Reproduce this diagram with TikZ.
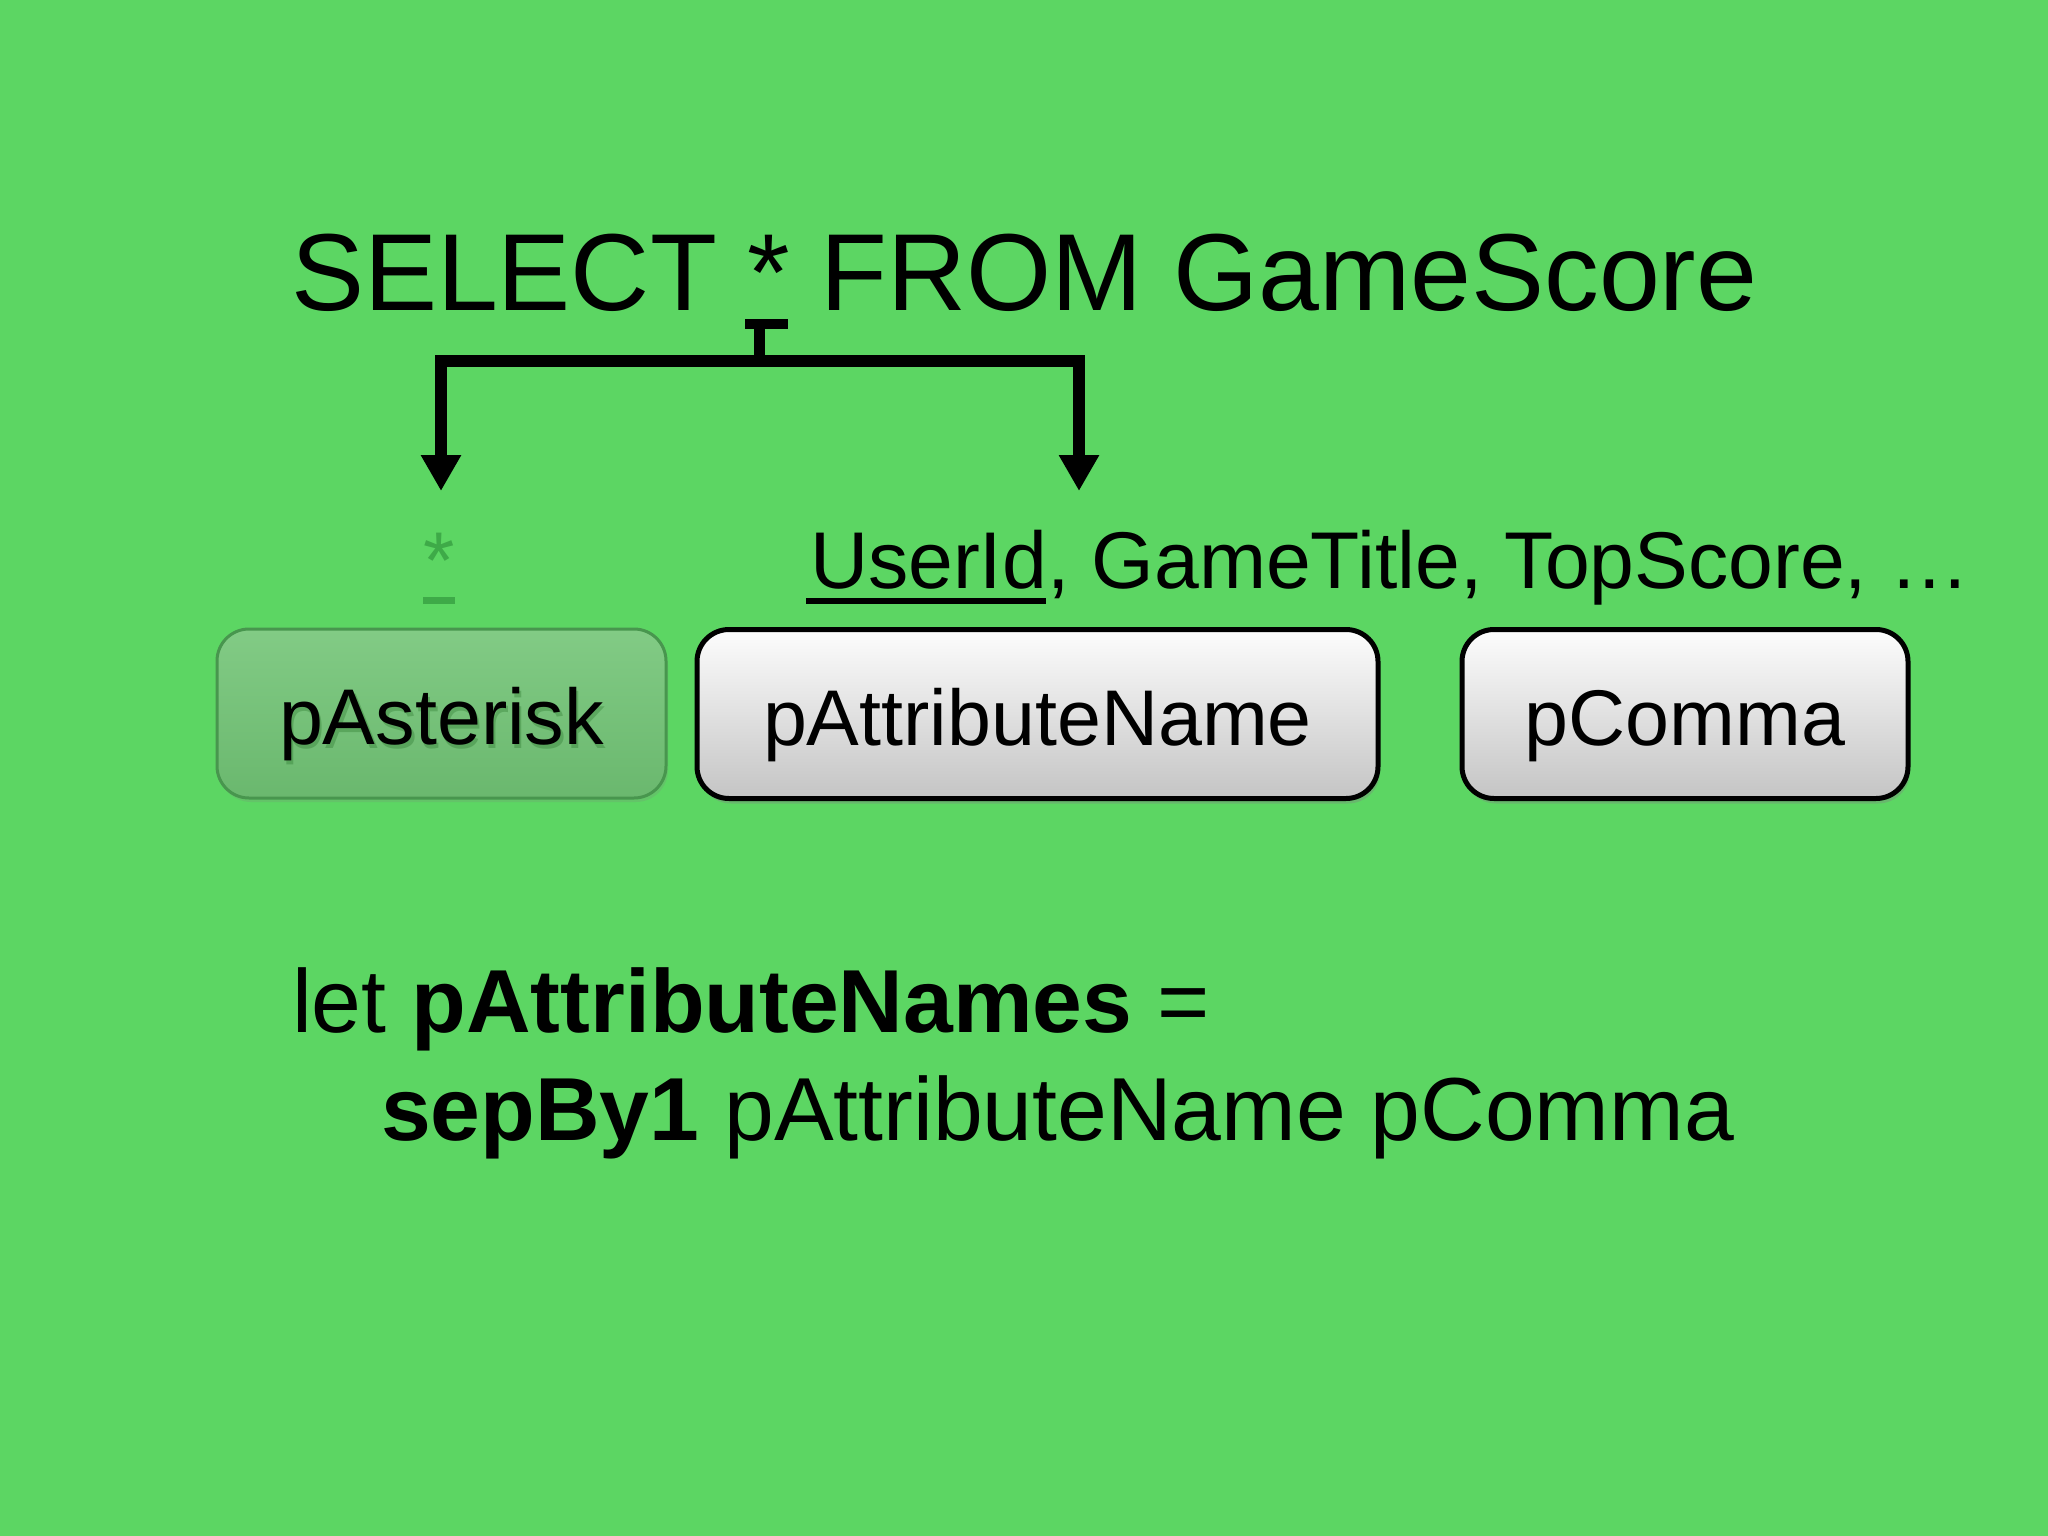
\documentclass[tikz,border=0pt]{standalone}
\usepackage{fontspec}
\setmainfont{Liberation Sans}
\usetikzlibrary{arrows.meta,shadows}
\definecolor{bg}{RGB}{92,214,99}
\definecolor{dimgreen}{RGB}{62,170,72}
\definecolor{boxgreentop}{RGB}{130,203,133}
\definecolor{boxgreenbot}{RGB}{106,184,110}
\definecolor{boxgreenline}{RGB}{72,150,78}
\definecolor{greytop}{RGB}{253,253,253}
\definecolor{greybot}{RGB}{196,196,196}
\tikzset{
  txt/.style={anchor=base west, inner sep=0pt, outer sep=0pt},
  titlefont/.style={font=\fontsize{109.5pt}{120pt}\selectfont},
  midfont/.style={font=\fontsize{80.5pt}{90pt}\selectfont},
  codefont/.style={font=\fontsize{89.5pt}{100pt}\selectfont},
  parser/.style={rounded corners=32pt, minimum height=169pt, inner sep=0pt,
    text height=62pt, text depth=0pt, font=\fontsize{79pt}{90pt}\selectfont},
  whitebox/.style={parser, draw=black, line width=5pt, top color=greytop, bottom color=greybot,
    drop shadow={shadow xshift=2pt, shadow yshift=-5pt, opacity=0.35}},
  greenbox/.style={parser, draw=boxgreenline, line width=3pt, top color=boxgreentop, bottom color=boxgreenbot,
    drop shadow={shadow xshift=2pt, shadow yshift=-4pt, opacity=0.2}},
  boxlabel/.style={inner sep=0pt, text height=62pt, text depth=0pt, font=\fontsize{79pt}{90pt}\selectfont},
  conn/.style={line width=11.5pt, -{Triangle[length=36pt, width=38pt]}},
}
\begin{document}
\begin{tikzpicture}[x=1pt,y=-1pt]
\useasboundingbox (0,0) rectangle (2048,1536);
\fill[bg] (0,0) rectangle (2048,1536);

% title
\node[txt, titlefont] (title) at (291,310) {SELECT * FROM GameScore};
\fill[black] (745,319) rectangle (788,329);
\coordinate (star) at (759.5,324);
\coordinate (split) at (759.5,361);
\coordinate (tipL) at (441,491);
\coordinate (tipR) at (1079,491);
\draw[line width=11pt] (star) -- (split);
\draw[conn] (split) -| (tipL);
\draw[conn] (split) -| (tipR);

% expansions
\node[txt, midfont, text=dimgreen] (astlabel) at (423,588) {*};
\fill[dimgreen] (423,597) rectangle (455,604);
\node[txt, midfont] (attrlabel) at (810,588) {UserId, GameTitle, TopScore, …};
\fill[black] (806,598) rectangle (1046,604);

% parser boxes
\node[greenbox, minimum width=449pt] (pAst) at (441.5,713.5) {};
\node[boxlabel, text=black!70!green, opacity=0.22] at (444,717) {pAsterisk};
\node[boxlabel] (pAstText) at (441.5,713.5) {pAsterisk};
\node[whitebox, minimum width=681pt] (pAttr) at (1037.5,714) {pAttributeName};
\node[whitebox, minimum width=446pt] (pComma) at (1685,714) {pComma};

% code
\node[txt, codefont] (line1) at (292,1032) {let \textbf{pAttributeNames} =};
\node[txt, codefont] (line2) at (381,1140) {\textbf{sepBy1} pAttributeName pComma};
\end{tikzpicture}
\end{document}
